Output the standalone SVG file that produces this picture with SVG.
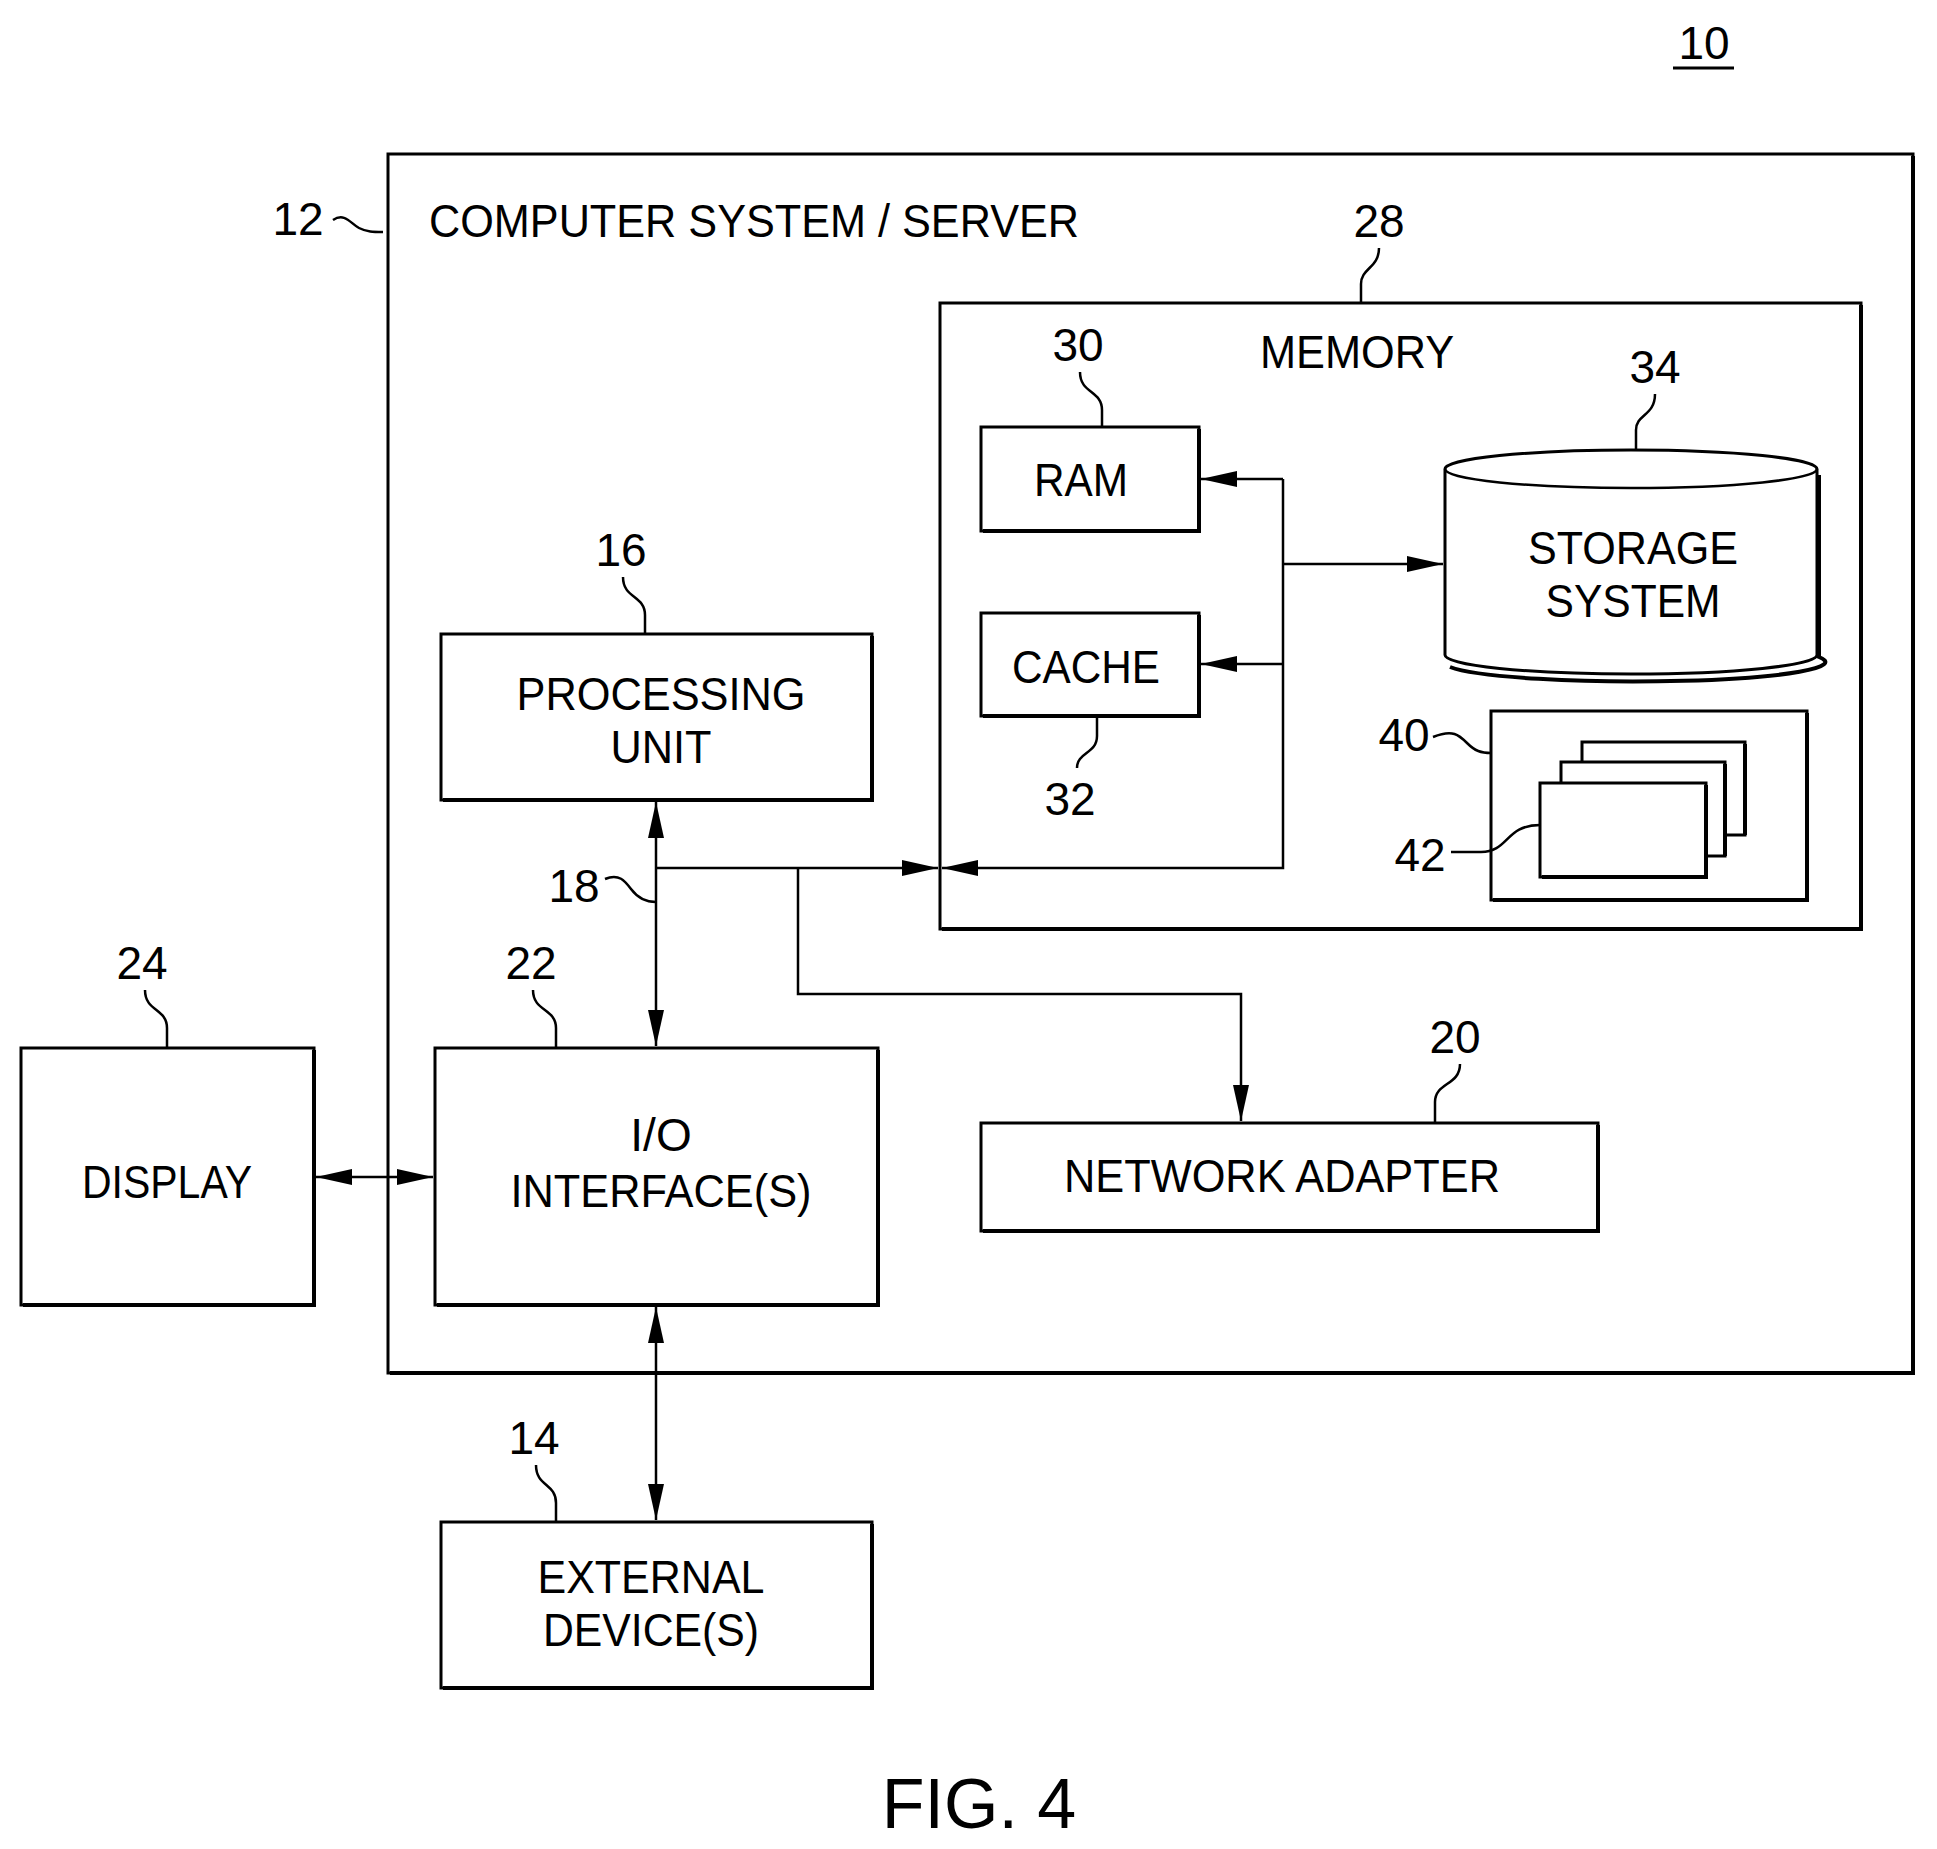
<svg xmlns="http://www.w3.org/2000/svg" width="1937" height="1849" viewBox="0 0 1937 1849">
<style>
.b{fill:#fff;stroke:#000;stroke-width:3}
.sh{fill:none;stroke:#000;stroke-width:4}
.l{fill:none;stroke:#000;stroke-width:2.5}
.t{font-family:"Liberation Sans",Arial,sans-serif;font-size:46px;fill:#000;text-anchor:middle}
.n{font-family:"Liberation Sans",Arial,sans-serif;font-size:46px;fill:#000;text-anchor:middle}
</style>
<defs>
<marker id="al" viewBox="0 0 36 16" refX="36" refY="8" markerWidth="36" markerHeight="16" markerUnits="userSpaceOnUse" orient="auto-start-reverse"><path d="M0,0L36,8L0,16z"/></marker>
</defs>
<g id="fig-label">
<text class="n" x="1704" y="59">10</text>
<line x1="1673" y1="68" x2="1734" y2="68" stroke="#000" stroke-width="3"/>
<text class="n" x="979" y="1828" style="font-size:70px">FIG. 4</text>
</g>
<g id="server">
<rect class="b" x="388" y="154" width="1525" height="1219"/>
<path class="sh" d="M1913,156V1373H390"/>
<text class="t" x="429" y="237" style="text-anchor:start" textLength="650" lengthAdjust="spacingAndGlyphs">COMPUTER SYSTEM / SERVER</text>
<text class="n" x="298" y="235">12</text>
<path class="l" d="M333,220c12,-8 18,4 26,8s14,4 24,4"/>
</g>
<g id="memory">
<rect class="b" x="940" y="303" width="921" height="626"/>
<path class="sh" d="M1861,305V929H942"/>
<text class="t" x="1357" y="368" textLength="194" lengthAdjust="spacingAndGlyphs">MEMORY</text>
<text class="n" x="1379" y="237">28</text>
<path class="l" d="M1379,248c0,20 -18,20 -18,36v19"/>
</g>
<g id="ram">
<rect class="b" x="981" y="427" width="218" height="104"/>
<path class="sh" d="M1199,429V531H983"/>
<text class="t" x="1081" y="496" textLength="94" lengthAdjust="spacingAndGlyphs">RAM</text>
<text class="n" x="1078" y="361">30</text>
<path class="l" d="M1080,372c0,22 22,18 22,38v17"/>
</g>
<g id="cache">
<rect class="b" x="981" y="613" width="218" height="103"/>
<path class="sh" d="M1199,615V716H983"/>
<text class="t" x="1086" y="683" textLength="148" lengthAdjust="spacingAndGlyphs">CACHE</text>
<text class="n" x="1070" y="815">32</text>
<path class="l" d="M1097,716v20c0,18 -20,16 -20,32"/>
</g>
<g id="storage">
<path class="b" d="M1445,469A186,19 0 0 1 1817,469V655A186,19 0 0 1 1445,655Z"/>
<path class="l" d="M1445,469A186,19 0 0 0 1817,469"/>
<path class="sh" d="M1819,475V657A186,19 0 0 1 1450,667"/>
<text class="t" x="1633" y="564" textLength="210" lengthAdjust="spacingAndGlyphs">STORAGE</text>
<text class="t" x="1633" y="617" textLength="175" lengthAdjust="spacingAndGlyphs">SYSTEM</text>
<text class="n" x="1655" y="383">34</text>
<path class="l" d="M1655,394c0,22 -19,20 -19,36v20"/>
</g>
<g id="program-box">
<rect class="b" x="1491" y="711" width="316" height="189"/>
<path class="sh" d="M1807,713V900H1493"/>
<text class="n" x="1404" y="751">40</text>
<path class="l" d="M1433,737c20,-8 26,-2 34,6s14,10 24,10"/>
</g>
<g id="modules">
<rect class="b" x="1582" y="742" width="163" height="93"/>
<path class="sh" d="M1745,744V835"/>
<rect class="b" x="1561" y="762" width="164" height="94"/>
<path class="sh" d="M1725,764V856"/>
<rect class="b" x="1540" y="783" width="166" height="94"/>
<path class="sh" d="M1706,785V877H1542"/>
<text class="n" x="1420" y="871">42</text>
<path class="l" d="M1451,852h30c28,0 24,-27 59,-27"/>
</g>
<g id="processing">
<rect class="b" x="441" y="634" width="431" height="166"/>
<path class="sh" d="M872,636V800H443"/>
<text class="t" x="661" y="710" textLength="289" lengthAdjust="spacingAndGlyphs">PROCESSING</text>
<text class="t" x="661" y="763" textLength="101" lengthAdjust="spacingAndGlyphs">UNIT</text>
<text class="n" x="621" y="566">16</text>
<path class="l" d="M623,577c0,22 22,18 22,38v19"/>
</g>
<g id="io">
<rect class="b" x="435" y="1048" width="443" height="257"/>
<path class="sh" d="M878,1050V1305H437"/>
<text class="t" x="661" y="1151">I/O</text>
<text class="t" x="661" y="1207" textLength="301" lengthAdjust="spacingAndGlyphs">INTERFACE(S)</text>
<text class="n" x="531" y="979">22</text>
<path class="l" d="M533,990c0,22 23,18 23,38v20"/>
</g>
<g id="display">
<rect class="b" x="21" y="1048" width="293" height="257"/>
<path class="sh" d="M314,1050V1305H23"/>
<text class="t" x="167" y="1198" textLength="170" lengthAdjust="spacingAndGlyphs">DISPLAY</text>
<text class="n" x="142" y="979">24</text>
<path class="l" d="M145,990c0,22 22,18 22,38v20"/>
</g>
<g id="network">
<rect class="b" x="981" y="1123" width="617" height="108"/>
<path class="sh" d="M1598,1125V1231H983"/>
<text class="t" x="1282" y="1192" textLength="436" lengthAdjust="spacingAndGlyphs">NETWORK ADAPTER</text>
<text class="n" x="1455" y="1053">20</text>
<path class="l" d="M1460,1064c0,22 -25,18 -25,38v21"/>
</g>
<g id="external">
<rect class="b" x="441" y="1522" width="431" height="166"/>
<path class="sh" d="M872,1524V1688H443"/>
<text class="t" x="651" y="1593" textLength="227" lengthAdjust="spacingAndGlyphs">EXTERNAL</text>
<text class="t" x="651" y="1646" textLength="216" lengthAdjust="spacingAndGlyphs">DEVICE(S)</text>
<text class="n" x="534" y="1454">14</text>
<path class="l" d="M536,1465c0,22 20,18 20,38v19"/>
</g>
<g id="connectors">
<line class="l" x1="656" y1="802" x2="656" y2="1046" marker-start="url(#al)" marker-end="url(#al)"/>
<path class="l" d="M656,868H938" marker-end="url(#al)"/>
<path class="l" d="M1283,479V868H942" marker-end="url(#al)"/>
<path class="l" d="M1283,479H1201" marker-end="url(#al)"/>
<path class="l" d="M1283,664H1201" marker-end="url(#al)"/>
<path class="l" d="M1283,564H1443" marker-end="url(#al)"/>
<path class="l" d="M798,868V994H1241V1121" marker-end="url(#al)"/>
<line class="l" x1="316" y1="1177" x2="433" y2="1177" marker-start="url(#al)" marker-end="url(#al)"/>
<line class="l" x1="656" y1="1307" x2="656" y2="1520" marker-start="url(#al)" marker-end="url(#al)"/>
<text class="n" x="574" y="902">18</text>
<path class="l" d="M605,879c14,-6 20,2 26,10s14,13 25,13"/>
</g>
</svg>
